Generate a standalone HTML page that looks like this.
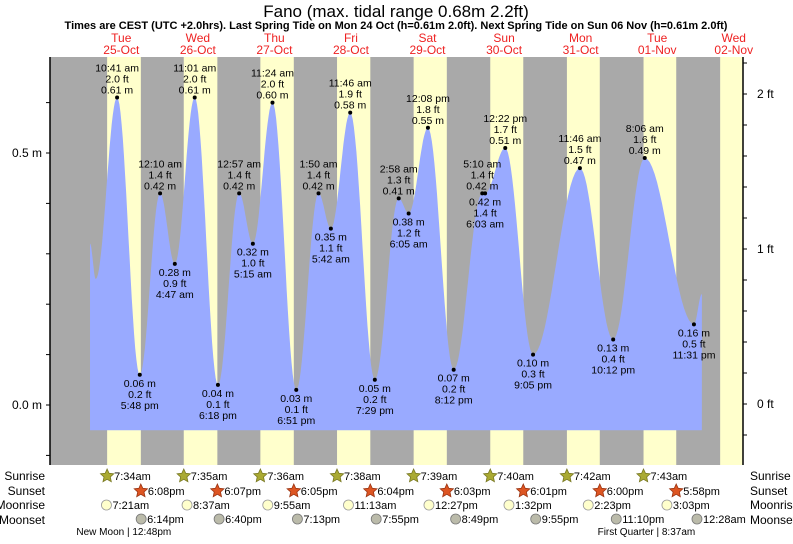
<!DOCTYPE html>
<html><head><meta charset="utf-8"><style>
body{margin:0;background:#fff;}
svg text{font-family:"Liberation Sans",sans-serif;}
</style></head><body>
<svg id="c" width="793" height="539" viewBox="0 0 793 539"></svg>
<script>
const dayNames=["Tue","Wed","Thu","Fri","Sat","Sun","Mon","Tue","Wed"];
const dayDates=["25-Oct","26-Oct","27-Oct","28-Oct","29-Oct","30-Oct","31-Oct","01-Nov","02-Nov"];
const sunrise=["7:34am","7:35am","7:36am","7:38am","7:39am","7:40am","7:42am","7:43am","7:44am"];
const sunset=["6:08pm","6:07pm","6:05pm","6:04pm","6:03pm","6:01pm","6:00pm","5:58pm","5:57pm"];
const moonrise=["7:21am","8:37am","9:55am","11:13am","12:27pm","1:32pm","2:23pm","3:03pm"];
const moonset=["6:14pm","6:40pm","7:13pm","7:55pm","8:49pm","9:55pm","11:10pm","12:28am"];
const moonsetDay=[0,1,2,3,4,5,6,8];
const tideDay=[0,0,1,1,1,1,2,2,2,2,3,3,3,3,4,4,4,4,5,5,5,5,6,6,7,7];
const tideTime=["10:41 am","5:48 pm","12:10 am","4:47 am","11:01 am","6:18 pm","12:57 am","5:15 am","11:24 am","6:51 pm","1:50 am","5:42 am","11:46 am","7:29 pm","2:58 am","6:05 am","12:08 pm","8:12 pm","5:10 am","6:03 am","12:22 pm","9:05 pm","11:46 am","10:12 pm","8:06 am","11:31 pm"];
const tideM=[0.61,0.06,0.42,0.28,0.61,0.04,0.42,0.32,0.60,0.03,0.42,0.35,0.58,0.05,0.41,0.38,0.55,0.07,0.42,0.42,0.51,0.10,0.47,0.13,0.49,0.16];
const tideFt=["2.0","0.2","1.4","0.9","2.0","0.1","1.4","1.0","2.0","0.1","1.4","1.1","1.9","0.2","1.3","1.2","1.8","0.2","1.4","1.4","1.7","0.3","1.5","0.4","1.6","0.5"];
const tideType=["H","L","H","L","H","L","H","L","H","L","H","L","H","L","H","L","H","L","H","L","H","L","H","L","H","L"];
const startT=2.2, startM=0.32, preLowT=4.0, preLowM=0.25, endT=194.0, endM=0.22;

const NS="http://www.w3.org/2000/svg";
const svg=document.getElementById('c');
const X0=50,X1=743,Y0=57,Y1=465;
function x(t){return 83+t*3.19;}
function y(m){return 405-504*m;}
function yft(f){return 404-155*f;}
function parseT(s){let m=s.match(/(\d+):(\d+)\s*(am|pm)/);let h=+m[1]%12;if(m[3]=='pm')h+=12;return h+ +m[2]/60;}
function el(tag,a,parent){const e=document.createElementNS(NS,tag);for(const k in a)e.setAttribute(k,a[k]);(parent||svg).appendChild(e);return e;}
function txt(s,xx,yy,a,parent){const e=el('text',Object.assign({x:xx,y:yy,'font-size':11,fill:'#000','text-anchor':'middle'},a),parent);e.textContent=s;return e;}

let bg=el('rect',{x:X0,y:Y0,width:X1-X0,height:Y1-Y0,fill:'#a9a9a9'});


for(let d=0;d<9;d++){
  let a=x(d*24+parseT(sunrise[d])),b=Math.min(X1,x(d*24+parseT(sunset[d])));
  if(a>=X1)continue;
  let r=el('rect',{x:a,y:Y0,width:b-a,height:Y1-Y0,fill:'#ffffcc'});
  
  
}
const pts=[[startT,startM],[preLowT,preLowM]];
for(let i=0;i<tideM.length;i++)pts.push([tideDay[i]*24+parseT(tideTime[i]),tideM[i]]);
pts.push([endT,endM]);
let d='M'+x(startT)+','+y(-0.05)+' L'+x(startT)+','+y(startM);
for(let i=1;i<pts.length;i++){
  const [t0,m0]=pts[i-1],[t1,m1]=pts[i];
  for(let k=1;k<=20;k++){const f=k/20;const t=t0+(t1-t0)*f;const m=m0+(m1-m0)*(1-Math.cos(Math.PI*f))/2;d+=' L'+x(t).toFixed(1)+','+y(m).toFixed(1);}
}
d+=' L'+x(endT)+','+y(-0.05)+' Z';
let area=el('path',{d:d,fill:'#99aaff'});


for(let i=0;i<tideM.length;i++){
  const t=tideDay[i]*24+parseT(tideTime[i]),px=x(t),py=y(tideM[i]);
  let g=el('g',{'font-size':10.5});
  
  
  el('circle',{cx:px,cy:py,r:2,fill:'#000'},g);
  const m=tideM[i].toFixed(2)+' m',f=tideFt[i]+' ft';
  const o={'font-size':10.5};
  if(tideType[i]=='H'){txt(tideTime[i],px,py-26,o,g);txt(f,px,py-15,o,g);txt(m,px,py-4,o,g);}
  else{txt(m,px,py+12,o,g);txt(f,px,py+23,o,g);txt(tideTime[i],px,py+34,o,g);}
}
let la=el('line',{x1:X0,y1:Y0,x2:X0,y2:Y1,stroke:'#000','stroke-width':1.5});

let ra=el('line',{x1:X1,y1:Y0,x2:X1,y2:Y1,stroke:'#000','stroke-width':1.5});

for(let v=-0.1;v<=0.7;v+=0.1){const yy=y(v);if(yy<Y0||yy>Y1)continue;el('line',{x1:X0-4,y1:yy,x2:X0,y2:yy,stroke:'#000'});}
for(const v of [0,0.5]){let t=txt(v.toFixed(1)+' m',X0-8,y(v)+4,{'text-anchor':'end','font-size':12});}
for(let v=-0.2;v<=2.3;v+=0.2){const yy=yft(v);if(yy<Y0||yy>Y1)continue;el('line',{x1:X1,y1:yy,x2:X1+4,y2:yy,stroke:'#000'});}
for(const v of [0,1,2]){let t=txt(v+' ft',X1+14,yft(v)+4,{'text-anchor':'start','font-size':12});}
let tt=txt('Fano (max. tidal range 0.68m 2.2ft)',396,17,{'font-size':17});
let st=txt('Times are CEST (UTC +2.0hrs). Last Spring Tide on Mon 24 Oct (h=0.61m 2.0ft). Next Spring Tide on Sun 06 Nov (h=0.61m 2.0ft)',396,29,{'font-size':11,'font-weight':'bold'});
for(let i=0;i<9;i++){const cx=x(i*24+12);
  let a=txt(dayNames[i],cx,42,{fill:'#ee2222','font-size':12});
  let b=txt(dayDates[i],cx,54,{fill:'#ee2222','font-size':12});}
const rows=[['Sunrise',480],['Sunset',495],['Moonrise',509],['Moonset',524]];
for(const [n,yy] of rows){
  let l=txt(n,45,yy,{'text-anchor':'end','font-size':12});
  let r=txt(n,750,yy,{'text-anchor':'start','font-size':12});
}
function star(cx,cy,fill,stroke,g){let p='';for(let k=0;k<10;k++){const a=-Math.PI/2+k*Math.PI/5,rr=k%2?3.3:7;p+=(cx+rr*Math.cos(a)).toFixed(1)+','+(cy+rr*Math.sin(a)).toFixed(1)+' ';}el('polygon',{points:p,fill:fill,stroke:stroke,'stroke-width':0.8},g);}
for(let i=0;i<8;i++){
  let g=el('g',{});
  let px=x(i*24+parseT(sunrise[i]));star(px,476,'#aaaa33','#777722',g);txt(sunrise[i],px+7,480,{'text-anchor':'start'},g);
  g=el('g',{});
  px=x(i*24+parseT(sunset[i]));star(px,491,'#dd5522','#993311',g);txt(sunset[i],px+7,495,{'text-anchor':'start'},g);
  g=el('g',{});
  px=x(i*24+parseT(moonrise[i]));el('circle',{cx:px,cy:505,r:5,fill:'#ffffcc',stroke:'#999','stroke-width':0.8},g);txt(moonrise[i],px+6,509,{'text-anchor':'start'},g);
  g=el('g',{});
  px=x(moonsetDay[i]*24+parseT(moonset[i]));el('circle',{cx:px,cy:519,r:5,fill:'#bbbbaa',stroke:'#777','stroke-width':0.8},g);txt(moonset[i],px+6,523,{'text-anchor':'start'},g);
}
let nm=txt('New Moon | 12:48pm',x(12.8),535,{'font-size':10});
let fq=txt('First Quarter | 8:37am',x(168+8.62),535,{'font-size':10});
</script>
</body></html>
